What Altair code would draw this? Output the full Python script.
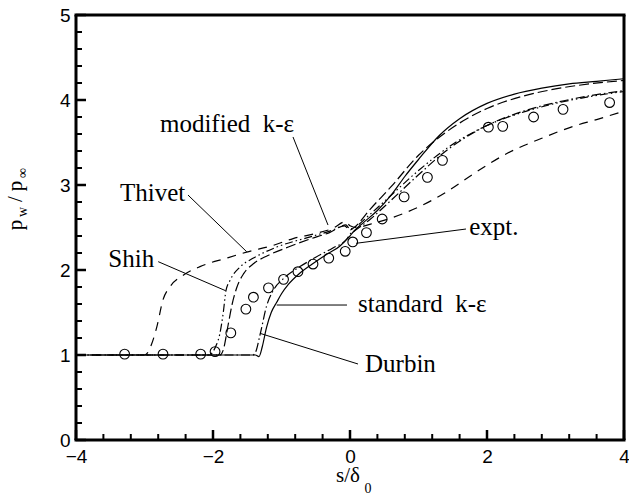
import altair as alt
import pandas as pd

# Wall pressure p_w/p_inf along the surface, s/delta0
std_x = [-4.0, -1.5, -1.38, -1.33, -1.28, -1.22, -1.15, -1.07, -1.0, -0.9, -0.75, -0.55, -0.35, -0.15, -0.05, 0.0, 0.05, 0.2, 0.4, 0.6, 0.8, 1.0, 1.3, 1.6, 2.0, 2.4, 2.8, 3.2, 3.6, 4.0]
std_y = [1.0, 1.0, 1.0, 0.98, 1.1, 1.32, 1.5, 1.62, 1.72, 1.83, 1.95, 2.07, 2.18, 2.28, 2.36, 2.4, 2.45, 2.56, 2.7, 2.88, 3.1, 3.3, 3.58, 3.78, 3.96, 4.07, 4.14, 4.19, 4.22, 4.25]

mod_x = [-4.0, -1.9, -1.85, -1.78, -1.72, -1.65, -1.55, -1.4, -1.2, -0.9, -0.6, -0.3, -0.08, 0.0, 0.06, 0.3, 0.6, 1.0, 1.4, 2.0, 2.5, 3.0, 3.5, 4.0]
mod_y = [1.0, 1.0, 1.06, 1.35, 1.6, 1.8, 1.96, 2.08, 2.17, 2.27, 2.36, 2.44, 2.52, 2.47, 2.5, 2.72, 2.98, 3.35, 3.62, 3.9, 4.04, 4.13, 4.19, 4.23]

shih_x = [-4.0, -2.05, -2.0, -1.95, -1.9, -1.85, -1.81, -1.75, -1.6, -1.41, -1.07, -0.58, -0.25, -0.06, 0.0, 0.06, 0.3, 0.6, 1.0, 1.5, 2.0, 2.5, 3.0, 3.5, 4.0]
shih_y = [1.0, 1.0, 1.04, 1.12, 1.25, 1.5, 1.76, 1.88, 2.04, 2.14, 2.27, 2.39, 2.47, 2.53, 2.48, 2.5, 2.66, 2.88, 3.17, 3.48, 3.7, 3.85, 3.96, 4.04, 4.1]

thivet_x = [-4.0, -3.0, -2.95, -2.9, -2.82, -2.73, -2.63, -2.43, -2.19, -1.8, -1.51, -1.12, -0.83, -0.5, -0.25, -0.06, 0.0, 0.1, 0.3, 0.63, 1.0, 1.41, 1.8, 2.29, 2.8, 3.26, 3.6, 4.0]
thivet_y = [1.0, 1.0, 1.03, 1.12, 1.33, 1.65, 1.8, 1.94, 2.04, 2.14, 2.21, 2.29, 2.37, 2.43, 2.49, 2.57, 2.52, 2.5, 2.54, 2.62, 2.74, 2.92, 3.13, 3.37, 3.55, 3.69, 3.77, 3.87]

durbin_x = [-4.0, -1.42, -1.38, -1.31, -1.22, -1.12, -0.97, -0.73, -0.5, -0.25, -0.05, 0.0, 0.05, 0.3, 0.6, 1.0, 1.4, 2.0, 2.5, 3.0, 3.5, 4.0]
durbin_y = [1.0, 1.0, 1.03, 1.25, 1.57, 1.76, 1.9, 2.04, 2.15, 2.26, 2.36, 2.42, 2.45, 2.6, 2.82, 3.12, 3.4, 3.7, 3.86, 3.97, 4.05, 4.11]

expt_x = [-3.29, -2.73, -2.18, -1.97, -1.74, -1.52, -1.41, -1.19, -0.97, -0.76, -0.54, -0.31, -0.07, 0.04, 0.24, 0.47, 0.79, 1.13, 1.35, 2.02, 2.23, 2.68, 3.11, 3.79]
expt_y = [1.01, 1.01, 1.01, 1.04, 1.26, 1.54, 1.68, 1.79, 1.89, 1.98, 2.07, 2.14, 2.22, 2.33, 2.44, 2.60, 2.86, 3.09, 3.29, 3.68, 3.69, 3.80, 3.89, 3.97]

# Curve labels and their leader lines (non-breaking spaces keep the wide gap)
label_text = ["modified\u00a0\u00a0k-\u03b5", "Thivet", "Shih", "standard\u00a0\u00a0k-\u03b5", "Durbin", "expt."]
label_x = [-2.774, -3.358, -3.528, 0.117, 0.219, 1.74]
label_y = [3.62, 2.81, 2.04, 1.51, 0.80, 2.41]
lead_x1 = [-0.832, -2.365, -2.80, -1.07, -1.314, 0.088]
lead_y1 = [3.565, 2.882, 2.098, 1.588, 1.255, 2.314]
lead_x2 = [-0.321, -1.508, -1.815, -0.044, 0.117, 1.693]
lead_y2 = [2.529, 2.215, 1.756, 1.588, 0.894, 2.482]

x_major = [-4, -2, 0, 2, 4]
x_minor = [-3.6, -3.2, -2.8, -2.4, -1.6, -1.2, -0.8, -0.4, 0.4, 0.8, 1.2, 1.6, 2.4, 2.8, 3.2, 3.6]
y_major = [0, 1, 2, 3, 4, 5]
y_minor = [v / 5 for v in range(1, 25) if v % 5 != 0]

W, H = 548, 425
SERIF = "Liberation Serif"
SANS = "Liberation Sans"

xs = alt.Scale(domain=[-4, 4], nice=False, zero=False)
ys = alt.Scale(domain=[0, 5], nice=False, zero=False)
xax = alt.Axis(values=x_major, labelFont=SANS, labelFontSize=19, labelColor="black",
               ticks=False, domain=False, grid=False, title=None, labelPadding=7,
               format="d", labelFlush=False)
yax = alt.Axis(values=y_major, labelFont=SANS, labelFontSize=19, labelColor="black",
               ticks=False, domain=False, grid=False, title=None, labelPadding=6,
               format="d")


def curve(xv, yv, dash):
    df = pd.DataFrame({"s": xv, "p": yv})
    kw = {"color": "black", "strokeWidth": 1.2, "interpolate": "monotone"}
    if dash:
        kw["strokeDash"] = dash
    return alt.Chart(df).mark_line(**kw).encode(
        x=alt.X("s:Q", scale=xs, axis=xax), y=alt.Y("p:Q", scale=ys, axis=yax))


lines = [
    curve(std_x, std_y, None),
    curve(mod_x, mod_y, [10, 4]),
    curve(shih_x, shih_y, [8, 3, 1.5, 3, 1.5, 3]),
    curve(thivet_x, thivet_y, [9, 7]),
    curve(durbin_x, durbin_y, [9, 3, 1.5, 3]),
]

expt = alt.Chart(pd.DataFrame({"s": expt_x, "p": expt_y})).mark_point(
    shape="circle", size=95, filled=False, color="black", strokeWidth=1.1, opacity=1
).encode(x=alt.X("s:Q", scale=xs), y=alt.Y("p:Q", scale=ys))

lab_df = pd.DataFrame({"t": label_text, "s": label_x, "p": label_y})
labels = alt.Chart(lab_df).mark_text(
    font=SERIF, fontSize=25, align="left", baseline="alphabetic", color="black"
).encode(x=alt.X("s:Q", scale=xs), y=alt.Y("p:Q", scale=ys), text="t:N")

lead_df = pd.DataFrame({"x1": lead_x1, "y1": lead_y1, "x2": lead_x2, "y2": lead_y2})
leaders = alt.Chart(lead_df).mark_rule(color="black", strokeWidth=1).encode(
    x=alt.X("x1:Q", scale=xs), y=alt.Y("y1:Q", scale=ys), x2="x2:Q", y2="y2:Q")

# inward tick marks along the bottom and left edges
xmaj = alt.Chart(pd.DataFrame({"v": x_major})).mark_tick(
    color="black", thickness=2.5, size=10, orient="vertical", opacity=1
).encode(x=alt.X("v:Q", scale=xs), y=alt.value(H - 5))
xmin = alt.Chart(pd.DataFrame({"v": x_minor})).mark_tick(
    color="black", thickness=2, size=6, orient="vertical", opacity=1
).encode(x=alt.X("v:Q", scale=xs), y=alt.value(H - 3))
ymaj = alt.Chart(pd.DataFrame({"v": y_major})).mark_tick(
    color="black", thickness=2.5, size=10, orient="horizontal", opacity=1
).encode(y=alt.Y("v:Q", scale=ys), x=alt.value(5))
ymin = alt.Chart(pd.DataFrame({"v": y_minor})).mark_tick(
    color="black", thickness=2, size=6, orient="horizontal", opacity=1
).encode(y=alt.Y("v:Q", scale=ys), x=alt.value(3))

# plot frame, four edges
one = pd.DataFrame({"k": [0]})
edge = dict(color="black", strokeWidth=3, opacity=1)
frame = [
    alt.Chart(one).mark_rule(**edge).encode(x=alt.value(-1.5), x2=alt.value(W + 1.5), y=alt.value(0), y2=alt.value(0)),
    alt.Chart(one).mark_rule(**edge).encode(x=alt.value(-1.5), x2=alt.value(W + 1.5), y=alt.value(H), y2=alt.value(H)),
    alt.Chart(one).mark_rule(**edge).encode(x=alt.value(0), x2=alt.value(0), y=alt.value(0), y2=alt.value(H)),
    alt.Chart(one).mark_rule(**edge).encode(x=alt.value(W), x2=alt.value(W), y=alt.value(0), y2=alt.value(H)),
]


def txt(t, x, y, size, angle=0):
    kw = {"text": t, "font": SERIF, "fontSize": size, "align": "center",
          "baseline": "alphabetic", "color": "black"}
    if angle:
        kw["angle"] = angle
    return alt.Chart(one).mark_text(**kw).encode(x=alt.value(x), y=alt.value(y))


# axis titles with subscripts
titles = [
    txt("s/\u03b4", 272, 467, 21),
    txt("0", 292, 478, 14),
    txt("p", -54, 210, 21, 270),
    txt("w", -49, 197, 14, 270),
    txt("/", -54, 184, 21, 270),
    txt("p", -54, 171, 21, 270),
    txt("\u221e", -49, 158, 14, 270),
]

chart = alt.layer(*lines, expt, leaders, labels, xmaj, xmin, ymaj, ymin, *frame, *titles).properties(
    width=W, height=H,
    padding={"left": 76, "top": 15, "right": 5, "bottom": 57},
    autosize=alt.AutoSizeParams(type="none"),
).configure_view(stroke=None).configure(background="white")

chart.save("out.html", embed_options={"renderer": "svg", "actions": False})
